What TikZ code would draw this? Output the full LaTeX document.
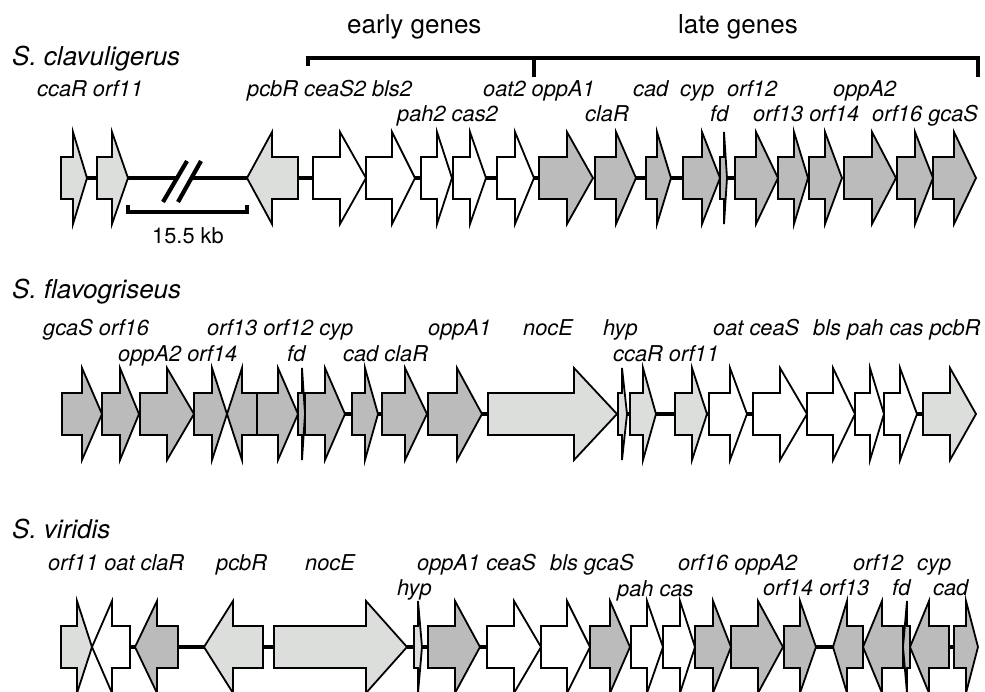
\documentclass[tikz,border=0pt]{standalone}
\usepackage{fontspec}
\setmainfont{TeX Gyre Heros}
\definecolor{lg}{RGB}{220,222,220}
\definecolor{dg}{RGB}{187,187,187}
\tikzset{
  gene/.style={draw=black, line width=1.8pt, line join=miter},
  lgf/.style={fill=lg}, dgf/.style={fill=dg}, wf/.style={fill=white},
  bb/.style={line width=4.5pt},
  brk/.style={line width=3.2pt},
  slash/.style={line width=4.2pt},
  lbl/.style={anchor=base west, inner sep=0pt, font=\fontsize{21.8}{24}\selectfont\itshape},
  spc/.style={anchor=base west, inner sep=0pt, font=\fontsize{26}{30}\selectfont\itshape},
  hdr/.style={anchor=base west, inner sep=0pt, font=\fontsize{26}{30}\selectfont}
}
% rightward gene: style, name, body start, head base, tip, centre y
\newcommand{\geneR}[6]{%
  \draw[gene,#1] (#3,#6-21) -- (#4,#6-21) -- (#4,#6-46) -- (#5,#6) -- (#4,#6+46) -- (#4,#6+21) -- (#3,#6+21) -- cycle;
  \coordinate (#2-a) at (#3,#6); \coordinate (#2-b) at (#5,#6);}
% leftward gene: style, name, tip, head base, body end, centre y
\newcommand{\geneL}[6]{%
  \draw[gene,#1] (#3,#6) -- (#4,#6-46) -- (#4,#6-21) -- (#5,#6-21) -- (#5,#6+21) -- (#4,#6+21) -- (#4,#6+46) -- cycle;
  \coordinate (#2-a) at (#3,#6); \coordinate (#2-b) at (#5,#6);}
\begin{document}
\begin{tikzpicture}[x=1pt,y=-1pt]
\useasboundingbox (0,0) rectangle (985,691);

% ================= Row 1: S. clavuligerus =================
\node[spc] (sp1) at (12,65) {S. clavuligerus};
\node[hdr] (early) at (347,33) {early genes};
\node[hdr] (late) at (678,33) {late genes};
\coordinate (brA) at (308,66);
\coordinate (brB) at (308,58);
\coordinate (brC) at (978,58);
\coordinate (brD) at (978,77);
\coordinate (brM) at (534,58);
\coordinate (brN) at (534,77);
\draw[brk, line join=miter] (brA) -- (brB) -- (brC) -- (brD);
\draw[brk] (brM) -- (brN);

\geneR{lgf}{a-ccaR}{61}{73}{87}{178}
\geneR{lgf}{a-orf11}{97}{112}{128}{178}
\geneL{lgf}{a-pcbR}{247}{272}{298}{178}
\geneR{wf}{a-ceaS2}{313}{340}{366}{178}
\geneR{wf}{a-bls2}{366}{392}{415}{178}
\geneR{wf}{a-pah2}{421}{437}{452}{178}
\geneR{wf}{a-cas2}{453}{470}{486}{178}
\geneR{wf}{a-oat2}{497}{515}{534}{178}
\geneR{dgf}{a-oppA1}{539}{567}{593}{178}
\geneR{dgf}{a-claR}{595}{616}{636}{178}
\geneR{dgf}{a-cad}{646}{657}{671}{178}
\geneR{dgf}{a-cyp}{683}{702}{720}{178}
\geneR{dgf}{a-fd}{720}{724}{727}{178}
\geneR{dgf}{a-orf12}{735}{756}{778}{178}
\geneR{dgf}{a-orf13}{778}{794}{808}{178}
\geneR{dgf}{a-orf14}{809}{825}{842}{178}
\geneR{dgf}{a-oppA2}{844}{872}{896}{178}
\geneR{dgf}{a-orf16}{897}{915}{933}{178}
\geneR{dgf}{a-gcaS}{933}{954}{976}{178}

\coordinate (gapL) at (176,178);
\coordinate (gapR) at (192,178);
\draw[bb] (a-ccaR-b) -- (a-orf11-a);
\draw[line width=3.4pt] (a-orf11-b) -- (gapL);
\draw[line width=3.4pt] (gapR) -- (a-pcbR-a);
\coordinate (s1a) at (163,202); \coordinate (s1b) at (187,161);
\coordinate (s2a) at (178,202); \coordinate (s2b) at (201,161);
\draw[slash] (s1a) -- (s1b);
\draw[slash] (s2a) -- (s2b);
\draw[bb] (a-pcbR-b) -- (a-ceaS2-a);
\draw[bb] (a-bls2-b) -- (a-pah2-a);
\draw[bb] (a-cas2-b) -- (a-oat2-a);
\draw[bb] (a-oat2-b) -- (a-oppA1-a);
\draw[bb] (a-claR-b) -- (a-cad-a);
\draw[bb] (a-cad-b) -- (a-cyp-a);
\draw[bb] (a-fd-b) -- (a-orf12-a);

\coordinate (kbA) at (128,205);
\coordinate (kbB) at (128,212);
\coordinate (kbC) at (247,212);
\coordinate (kbD) at (247,205);
\draw[brk, line join=miter] (kbA) -- (kbB) -- (kbC) -- (kbD);
\node[anchor=base west, inner sep=0pt, font=\fontsize{21.8}{24}\selectfont] (kb) at (152,243) {15.5 kb};

\node[lbl] (l1a) at (37,96) {ccaR orf11};
\node[lbl] (l1b) at (247,96) {pcbR ceaS2 bls2};
\node[lbl] (l1c) at (483,96) {oat2 oppA1};
\node[lbl] (l1d) at (633,96) {cad};
\node[lbl] (l1e) at (680,96) {cyp};
\node[lbl] (l1f) at (727,96) {orf12};
\node[lbl] (l1g) at (833,96) {oppA2};
\node[lbl] (l1h) at (397,121) {pah2 cas2};
\node[lbl] (l1i) at (585,121) {claR};
\node[lbl] (l1j) at (710,121) {fd};
\node[lbl] (l1k) at (753,121) {orf13 orf14};
\node[lbl] (l1l) at (872,121) {orf16 gcaS};

% ================= Row 2: S. flavogriseus =================
\node[spc] (sp2) at (12,298) {S. flavogriseus};
\geneR{dgf}{b-gcaS}{62}{82}{102}{414}
\geneR{dgf}{b-orf16}{102}{120}{139}{414}
\geneR{dgf}{b-oppA2}{140}{167}{194}{414}
\geneR{dgf}{b-orf14}{194}{212}{227}{414}
\geneL{dgf}{b-orf13}{227}{242}{257}{414}
\geneR{dgf}{b-orf12}{257}{278}{298}{414}
\geneR{dgf}{b-fd}{298}{302}{305}{414}
\geneR{dgf}{b-cyp}{305}{325}{345}{414}
\geneR{dgf}{b-cad}{352}{365}{378}{414}
\geneR{dgf}{b-claR}{382}{405}{427}{414}
\geneR{dgf}{b-oppA1}{428}{457}{482}{414}
\geneR{lgf}{b-nocE}{488}{574}{617}{414}
\geneR{lgf}{b-hyp}{618}{622}{627}{414}
\geneR{lgf}{b-ccaR}{630}{643}{656}{414}
\geneR{lgf}{b-orf11}{675}{692}{707}{414}
\geneR{wf}{b-oat}{709}{730}{747}{414}
\geneR{wf}{b-ceaS}{753}{780}{807}{414}
\geneR{wf}{b-bls}{807}{833}{855}{414}
\geneR{wf}{b-pah}{855}{870}{884}{414}
\geneR{wf}{b-cas}{884}{900}{917}{414}
\geneR{lgf}{b-pcbR}{923}{950}{976}{414}
\draw[bb] (b-cyp-b) -- (b-cad-a);
\draw[bb] (b-cad-b) -- (b-claR-a);
\draw[bb] (b-oppA1-b) -- (b-nocE-a);
\draw[bb] (b-hyp-b) -- (b-ccaR-a);
\draw[bb] (b-ccaR-b) -- (b-orf11-a);
\draw[bb] (b-orf11-b) -- (b-oat-a);
\draw[bb] (b-oat-b) -- (b-ceaS-a);
\draw[bb] (b-cas-b) -- (b-pcbR-a);

\node[lbl] (l2a) at (43,335) {gcaS orf16};
\node[lbl] (l2b) at (207,335) {orf13 orf12 cyp};
\node[lbl] (l2c) at (428,335) {oppA1};
\node[lbl] (l2d) at (523,335) {nocE};
\node[lbl] (l2e) at (603,335) {hyp};
\node[lbl] (l2f) at (713,335) {oat ceaS};
\node[lbl] (l2g) at (813,335) {bls pah cas pcbR};
\node[lbl] (l2h) at (118,361) {oppA2 orf14};
\node[lbl] (l2i) at (287,361) {fd};
\node[lbl] (l2j) at (343,361) {cad claR};
\node[lbl] (l2k) at (613,361) {ccaR orf11};

% ================= Row 3: S. viridis =================
\node[spc] (sp3) at (12,538) {S. viridis};
\geneR{lgf}{c-orf11}{61}{77}{92}{647}
\geneL{wf}{c-oat}{92}{112}{130}{647}
\geneL{dgf}{c-claR}{135}{157}{178}{647}
\geneL{lgf}{c-pcbR}{204}{233}{263}{647}
\geneR{lgf}{c-nocE}{274}{366}{407}{647}
\geneR{lgf}{c-hyp}{414}{418}{422}{647}
\geneR{dgf}{c-oppA1}{428}{455}{480}{647}
\geneR{wf}{c-ceaS}{487}{514}{541}{647}
\geneR{wf}{c-bls}{541}{567}{590}{647}
\geneR{dgf}{c-gcaS}{590}{610}{630}{647}
\geneR{wf}{c-pah}{631}{647}{663}{647}
\geneR{wf}{c-cas}{663}{680}{695}{647}
\geneR{dgf}{c-orf16}{695}{713}{731}{647}
\geneR{dgf}{c-oppA2}{731}{758}{783}{647}
\geneR{dgf}{c-orf14}{784}{800}{816}{647}
\geneL{dgf}{c-orf13}{833}{847}{863}{647}
\geneL{dgf}{c-orf12}{863}{882}{903}{647}
\geneL{dgf}{c-fd}{903}{907}{910}{647}
\geneL{dgf}{c-cyp}{910}{929}{949}{647}
\geneR{dgf}{c-cad}{954}{966}{978}{647}
\draw[bb] (c-oat-b) -- (c-claR-a);
\draw[bb] (c-claR-b) -- (c-pcbR-a);
\draw[bb] (c-pcbR-b) -- (c-nocE-a);
\draw[bb] (c-nocE-b) -- (c-hyp-a);
\draw[bb] (c-hyp-b) -- (c-oppA1-a);
\draw[bb] (c-oppA1-b) -- (c-ceaS-a);
\draw[bb] (c-orf14-b) -- (c-orf13-a);
\draw[bb] (c-cyp-b) -- (c-cad-a);

\node[lbl] (l3a) at (48,570) {orf11 oat claR};
\node[lbl] (l3b) at (216,570) {pcbR};
\node[lbl] (l3c) at (305,570) {nocE};
\node[lbl] (l3d) at (417,570) {oppA1 ceaS};
\node[lbl] (l3e) at (550,570) {bls gcaS};
\node[lbl] (l3f) at (678,570) {orf16 oppA2};
\node[lbl] (l3g) at (853,570) {orf12};
\node[lbl] (l3h) at (917,570) {cyp};
\node[lbl] (l3i) at (397,595) {hyp};
\node[lbl] (l3j) at (617,596) {pah cas};
\node[lbl] (l3k) at (763,595) {orf14 orf13};
\node[lbl] (l3l) at (892,595) {fd};
\node[lbl] (l3m) at (933,595) {cad};
\end{tikzpicture}
\end{document}
